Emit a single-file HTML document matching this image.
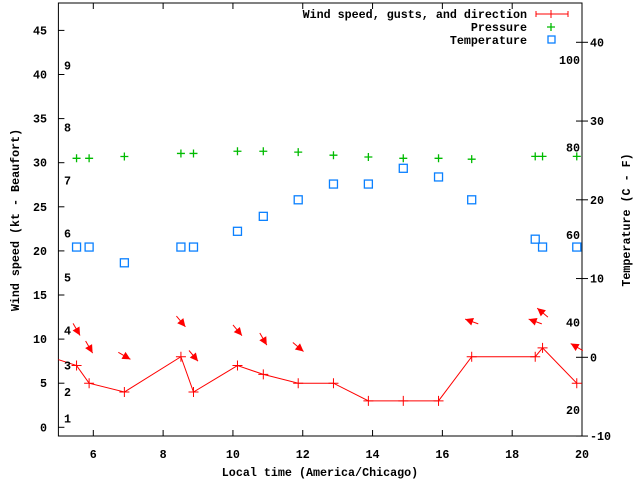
<!DOCTYPE html>
<html><head><meta charset="utf-8"><style>
html,body{margin:0;padding:0;background:#fff}
svg{display:block}
text{font-family:"Liberation Mono",monospace;font-size:11.7px;font-weight:bold;fill:#000}
</style></head><body>
<svg id="chart" width="640" height="480" viewBox="0 0 640 480" xmlns="http://www.w3.org/2000/svg">
<g id="grid"></g><g id="marks"></g><g id="labels"></g>
</svg>
<script>
const times = [5.52,5.88,6.89,8.51,8.87,10.13,10.87,11.87,12.88,13.88,14.88,15.89,16.84,18.66,18.87,19.85];
const windSpeed = [7,5,4,8,4,7,6,5,5,3,3,3,8,8,9,5];
const pressure = [30.5,30.5,30.7,31.05,31.05,31.3,31.3,31.2,30.85,30.65,30.5,30.5,30.4,30.72,30.72,30.72];
const temperature = [14,14,12,14,14,16,17.9,20,22,22,24,22.9,20,15,14,14];
const arrowTimes = [5.52,5.88,6.89,8.51,8.87,10.13,10.87,11.87,16.84,18.66,18.87,19.85];
const arrowLevel = [11.1,9.1,8.1,12,8.1,11,10,9.1,12,12,13,9.1];
const windDir = [330,330,300,320,320,320,330,310,110,110,130,120];
const xTicks = [6,8,10,12,14,16,18,20];
const yTicks = [0,5,10,15,20,25,30,35,40,45];
const y2Ticks = [-10,0,10,20,30,40];
const fTicks = [20,40,60,80,100];
const beaufortLabels = ["1","2","3","4","5","6","7","8","9"];
const beaufortKt = [1,4,7,11,17,22,28,34,41];

const L=58.4,R=582,T=3,B=436;
const X=v=>L+(v-5)*(R-L)/15;
const Y=v=>427.3-v*8.82;
const Y2=v=>357.3-v*7.875;
const NS="http://www.w3.org/2000/svg";
function mk(p,tag,a){const e=document.createElementNS(NS,tag);for(const k in a)e.setAttribute(k,a[k]);p.appendChild(e);return e;}
const G=document.getElementById('grid'),M=document.getElementById('marks'),LB=document.getElementById('labels');

let f=mk(G,'rect',{x:L,y:T,width:R-L,height:B-T,fill:'none',stroke:'#000','stroke-width':1});



xTicks.forEach(v=>{
  const x=X(v);
  mk(G,'line',{x1:x,y1:B,x2:x,y2:B-6,stroke:'#000'});
  mk(G,'line',{x1:x,y1:T,x2:x,y2:T+6,stroke:'#000'});
  const t=mk(LB,'text',{x:x,y:458,'text-anchor':'middle'});t.textContent=v;
  
  
});
yTicks.forEach(v=>{
  const y=Y(v);
  mk(G,'line',{x1:L,y1:y,x2:L+6,y2:y,stroke:'#000'});
  const t=mk(LB,'text',{x:47,y:y+4,'text-anchor':'end'});t.textContent=v;
  
  
});
y2Ticks.forEach(v=>{
  const y=Y2(v);
  mk(G,'line',{x1:R,y1:y,x2:R+6,y2:y,stroke:'#000'});
  mk(G,'line',{x1:R,y1:y,x2:R-6,y2:y,stroke:'#000'});
  const t=mk(LB,'text',{x:590,y:y+4});t.textContent=v;
  
  
});
fTicks.forEach(v=>{
  const y=Y2((v-32)*5/9);
  const t=mk(LB,'text',{x:580,y:y+4,'text-anchor':'end'});t.textContent=v;
  
  
});
beaufortLabels.forEach((s,i)=>{
  const t=mk(LB,'text',{x:64,y:Y(beaufortKt[i])+4});t.textContent=s;
  
  
});

// wind line (with off-chart lead-in, clipped)
mk(M,'clipPath',{id:'cp'}).appendChild(document.createElementNS(NS,'rect'));
const cr=document.querySelector('#cp rect');cr.setAttribute('x',L);cr.setAttribute('y',T);cr.setAttribute('width',R-L);cr.setAttribute('height',B-T);
let pts=[[X(4.9),Y(7.8)]].concat(times.map((t,i)=>[X(t),Y(windSpeed[i])]));
let wl=mk(M,'polyline',{points:pts.map(p=>p.join(',')).join(' '),fill:'none',stroke:'#f00','stroke-width':1,'clip-path':'url(#cp)'});


times.forEach((t,i)=>{
  const x=X(t),y=Y(windSpeed[i]);
  const p=mk(M,'path',{d:`M${x-5},${y}h10M${x},${y-5}v10`,stroke:'#f00','stroke-width':1});
  
  
  const g=mk(M,'path',{d:`M${x-4},${Y(pressure[i])}h8M${x},${Y(pressure[i])-4}v8`,stroke:'#0b0','stroke-width':1.3});
  
  
  const s=mk(M,'rect',{x:x-4,y:Y2(temperature[i])-4,width:8,height:8,fill:'none',stroke:'#0a80ff','stroke-width':1.3});
  
  
});
arrowTimes.forEach((t,i)=>{
  const cx=X(t),cy=Y(arrowLevel[i]);
  const to=(windDir[i]+180)*Math.PI/180;
  const dx=Math.sin(to),dy=-Math.cos(to),len=14;
  const x1=cx-dx*len/2,y1=cy-dy*len/2,x2=cx+dx*len/2,y2=cy+dy*len/2;
  const a=mk(M,'g',{});
  
  
  mk(a,'line',{x1:x1,y1:y1,x2:x2,y2:y2,stroke:'#f00','stroke-width':1});
  const px=-dy,py=dx,h=8,w=4;
  mk(a,'polygon',{points:`${x2},${y2} ${x2-dx*h+px*w},${y2-dy*h+py*w} ${x2-dx*h-px*w},${y2-dy*h-py*w}`,fill:'#f00'});
});

// legend
const legend=mk(LB,'g',{});


[["Wind speed, gusts, and direction",18],["Pressure",31],["Temperature",44]].forEach(([s,y])=>{
  const t=mk(legend,'text',{x:527,y:y,'text-anchor':'end'});t.textContent=s;
  
  
});
mk(legend,'path',{d:'M536,14h32M536,11v6M568,11v6M551,10v8',stroke:'#f00','stroke-width':1});
mk(legend,'path',{d:'M547,27h8M551,23v8',stroke:'#0b0','stroke-width':1.3});
mk(legend,'rect',{x:548,y:36,width:7,height:7,fill:'none',stroke:'#0a80ff','stroke-width':1.3});

let xt=mk(LB,'text',{x:320,y:476,'text-anchor':'middle'});xt.textContent="Local time (America/Chicago)";


let yt=mk(LB,'text',{x:0,y:0,'text-anchor':'middle',transform:'translate(19,220) rotate(-90)'});yt.textContent="Wind speed (kt - Beaufort)";


let y2t=mk(LB,'text',{x:0,y:0,'text-anchor':'middle',transform:'translate(630,220) rotate(-90)'});y2t.textContent="Temperature (C - F)";


</script>
</body></html>
